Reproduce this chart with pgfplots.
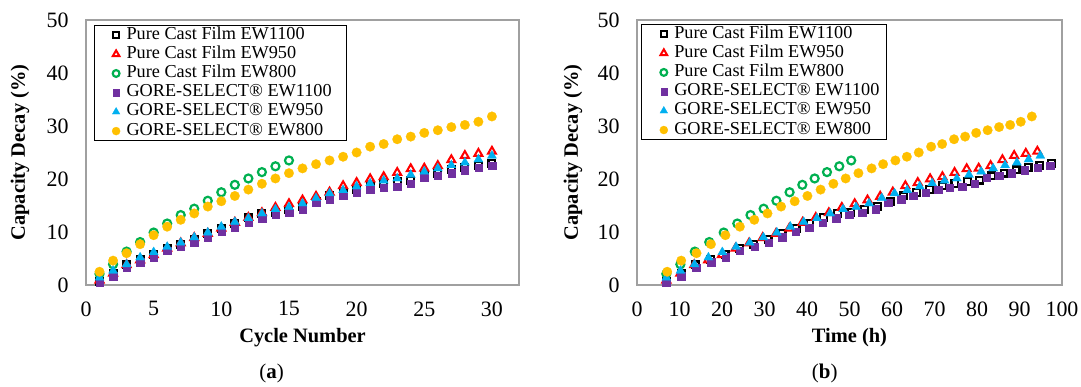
\documentclass[border=0pt]{standalone}
\usepackage{fontspec}
\setmainfont{Liberation Serif}
\usepackage{pgfplots}
\usepackage{pgfplotstable}
\pgfplotsset{compat=1.18}
\definecolor{cgreen}{HTML}{00B050}
\definecolor{cred}{HTML}{FF0000}
\definecolor{cpurple}{HTML}{7030A0}
\definecolor{cblue}{HTML}{00B0F0}
\definecolor{cyellow}{HTML}{FFC000}
\definecolor{axgray}{HTML}{A0A0A0}

% Pure Cast Film EW1100
\pgfplotstableread{
c t y
1 6.90 0.6
2 10.40 2.2
3 13.87 3.8
4 17.32 4.9
5 20.74 5.7
6 24.13 6.9
7 27.50 7.7
8 30.84 8.6
9 34.15 9.7
10 37.44 10.7
11 40.70 11.6
12 43.93 12.8
13 47.13 13.5
14 50.31 13.7
15 53.46 14.2
16 56.59 14.8
17 59.69 15.7
18 62.76 16.8
19 65.80 17.4
20 68.82 18.0
21 71.81 18.7
22 74.78 19.1
23 77.71 19.5
24 80.63 19.8
25 83.51 20.6
26 86.37 21.1
27 89.20 21.7
28 92.00 22.2
29 94.78 22.6
30 97.53 23.0
}\tA
% Pure Cast Film EW950
\pgfplotstableread{
c t y
1 6.90 0.9
2 10.20 2.2
3 13.48 3.8
4 16.74 4.7
5 19.98 5.7
6 23.19 6.9
7 26.39 7.9
8 29.57 8.9
9 32.72 9.7
10 35.86 10.7
11 38.97 11.8
12 42.06 12.7
13 45.14 13.6
14 48.19 14.6
15 51.22 15.3
16 54.23 16.0
17 57.22 16.7
18 60.19 17.5
19 63.14 18.7
20 66.06 19.3
21 68.97 20.0
22 71.86 20.4
23 74.72 21.2
24 77.57 21.9
25 80.39 22.0
26 83.20 22.5
27 85.98 23.6
28 88.74 24.4
29 91.48 24.8
30 94.20 25.2
}\tB
% Pure Cast Film EW800
\pgfplotstableread{
c t y
1 6.9 2.1
2 10.2 3.9
3 13.6 6.3
4 17.0 8.1
5 20.4 9.9
6 23.6 11.6
7 26.7 13.2
8 29.8 14.4
9 32.8 15.9
10 35.9 17.5
11 38.9 18.9
12 41.8 20.1
13 44.7 21.3
14 47.6 22.4
15 50.4 23.5
}\tC
% GORE-SELECT EW1100
\pgfplotstableread{
c t y
1 6.8 0.4
2 10.4 1.7
3 13.9 3.3
4 17.4 4.3
5 20.8 5.3
6 24.2 6.5
7 27.6 7.2
8 30.9 8.0
9 34.1 9.0
10 37.3 10.1
11 40.5 10.8
12 43.7 11.8
13 46.8 12.6
14 49.9 13.3
15 53.0 13.7
16 56.1 14.3
17 59.1 15.5
18 62.1 16.2
19 65.0 16.9
20 67.9 17.4
21 70.8 18.0
22 73.6 18.4
23 76.5 18.6
24 79.4 19.1
25 82.3 20.3
26 85.2 20.6
27 88.2 21.1
28 91.2 21.7
29 94.2 22.1
30 97.2 22.5
}\tD
% GORE-SELECT EW950
\pgfplotstableread{
c t y
1 6.90 1.4
2 10.22 2.7
3 13.53 3.9
4 16.81 5.2
5 20.08 6.2
6 23.31 7.2
7 26.53 8.0
8 29.74 9.0
9 32.91 9.9
10 36.08 11.0
11 39.21 11.9
12 42.32 12.6
13 45.43 13.5
14 48.50 14.3
15 51.56 14.7
16 54.59 15.4
17 57.60 16.4
18 60.60 17.3
19 63.57 17.9
20 66.52 18.6
21 69.45 19.2
22 72.36 19.7
23 75.25 20.1
24 78.12 20.8
25 80.97 21.4
26 83.80 22.0
27 86.60 22.6
28 89.39 23.1
29 92.15 23.7
30 94.90 24.4
}\tE
% GORE-SELECT EW800
\pgfplotstableread{
c t y
1 7.1 2.5
2 10.4 4.6
3 14.0 6.0
4 17.4 7.7
5 20.8 9.4
6 24.2 11.0
7 27.6 12.3
8 30.7 13.5
9 33.9 14.8
10 37.1 15.8
11 40.1 16.8
12 43.2 18.0
13 46.2 19.1
14 49.1 20.1
15 52.1 21.1
16 55.2 22.0
17 57.9 22.8
18 60.8 23.5
19 63.5 24.2
20 66.3 25.0
21 69.2 26.1
22 71.8 26.6
23 74.6 27.5
24 77.2 28.0
25 79.8 28.7
26 82.5 29.2
27 85.2 29.8
28 87.8 30.2
29 90.3 30.8
30 92.9 31.8
}\tF

\pgfplotsset{
  lg/.style={legend image code/.code={\path (0bp,0bp) (24.5bp,0bp);
     \draw[##1, every mark/.append style={scale=0.85}] plot coordinates {(14.5bp,0bp)};}},
  sA/.style={only marks, color=black, mark=square*, mark size=3.4bp, mark options={fill=white, line width=2.2bp}, lg},
  sB/.style={only marks, color=cred, mark=triangle*, mark size=4.6bp, mark options={fill=white, line width=2bp}, lg},
  sC/.style={only marks, color=cgreen, mark=*, mark size=4.0bp, mark options={fill=white, line width=2.2bp}, lg},
  sD/.style={only marks, color=cpurple, mark=square*, mark size=3.7bp, mark options={line width=0.2bp}, lg},
  sE/.style={only marks, color=cblue, mark=triangle*, mark size=5.3bp, mark options={line width=0.2bp}, lg},
  sF/.style={only marks, color=cyellow, mark=*, mark size=4.8bp, mark options={line width=0.2bp}, lg},
  base/.style={
    scale only axis, height=265bp,
    ymin=0, ymax=50, ytick={0,10,...,50},
    axis line style={draw=axgray, line width=1.3bp},
    major tick length=0pt,
    tick label style={font=\fontsize{22}{22}\selectfont},
    /pgf/number format/assume math mode=true,
    xticklabel style={yshift=-13bp},
    yticklabel style={xshift=-14bp},
    every axis x label/.style={at={(axis description cs:0.5,-0.2)}, anchor=center,
      font=\bfseries\fontsize{20.5}{20.5}\selectfont},
    legend style={anchor=north west, draw=black, line width=0.9bp,
      inner xsep=7bp, inner ysep=0bp, row sep=0bp, column sep=0bp,
      font=\fontsize{18.3}{18.3}\selectfont,
      nodes={inner sep=0pt, text height=13.7bp, text depth=5.5bp}},
    legend cell align=left,
    clip=false,
  }
}

\begin{document}
\begin{tikzpicture}
\useasboundingbox (0,0) rectangle (1081bp,387bp);
\begin{axis}[base, at={(86bp,102bp)}, anchor=south west, width=433bp,
  xmin=0, xmax=32, xtick={0,5,...,30},
  xlabel={Cycle Number}, ylabel={Capacity Decay (\%)},
  every axis y label/.style={at={(axis description cs:-0.1524,0.5)}, rotate=90, anchor=center,
      font=\bfseries\fontsize{20.5}{20.5}\selectfont},
  legend style={at={(axis description cs:0.0178,0.981)}}]
\addplot[sA] table[x=c,y=y] {\tA};
\addlegendentry{Pure Cast Film EW1100}
\addplot[sB] table[x=c,y=y] {\tB};
\addlegendentry{Pure Cast Film EW950}
\addplot[sC] table[x=c,y=y] {\tC};
\addlegendentry{Pure Cast Film EW800}
\addplot[sD] table[x=c,y=y] {\tD};
\addlegendentry{GORE-SELECT® EW1100\rule{8bp}{0pt}}
\addplot[sE] table[x=c,y=y] {\tE};
\addlegendentry{GORE-SELECT® EW950}
\addplot[sF] table[x=c,y=y] {\tF};
\addlegendentry{GORE-SELECT® EW800}
\node[font=\fontsize{21}{21}\selectfont] at (axis description cs:0.4286,-0.332) {(\textbf{a})};
\end{axis}
\begin{axis}[base, at={(637bp,102bp)}, anchor=south west, width=425bp,
  xmin=0, xmax=100, xtick={0,10,...,100},
  xlabel={Time (h)}, ylabel={Capacity Decay (\%)},
  every axis y label/.style={at={(axis description cs:-0.1506,0.5)}, rotate=90, anchor=center,
      font=\bfseries\fontsize{20.5}{20.5}\selectfont},
  legend style={at={(axis description cs:0.0104,0.985)}}]
\addplot[sA] table[x=t,y=y] {\tA};
\addlegendentry{Pure Cast Film EW1100}
\addplot[sB] table[x=t,y=y] {\tB};
\addlegendentry{Pure Cast Film EW950}
\addplot[sC] table[x=t,y=y] {\tC};
\addlegendentry{Pure Cast Film EW800}
\addplot[sD] table[x=t,y=y] {\tD};
\addlegendentry{GORE-SELECT® EW1100}
\addplot[sE] table[x=t,y=y] {\tE};
\addlegendentry{GORE-SELECT® EW950}
\addplot[sF] table[x=t,y=y] {\tF};
\addlegendentry{GORE-SELECT® EW800}
\node[font=\fontsize{21}{21}\selectfont] at (axis description cs:0.4417,-0.332) {(\textbf{b})};
\end{axis}
\end{tikzpicture}
\end{document}
